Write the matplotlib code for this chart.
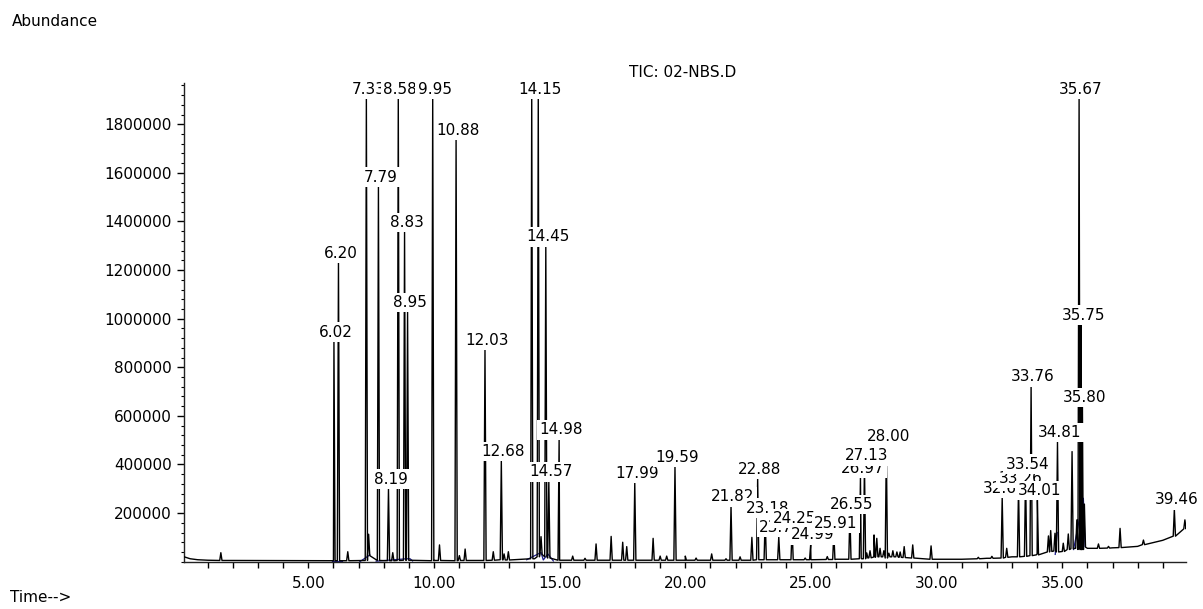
"""TIC chromatogram 02-NBS.D recreated with matplotlib."""

import numpy as np
import matplotlib
matplotlib.use("Agg")
import matplotlib.pyplot as plt
from matplotlib.ticker import MultipleLocator, FixedLocator, FuncFormatter

plt.rcParams["font.family"] = ["DejaVu Sans"]
FS = 11

# ── Data ──────────────────────────────────────────────────────────────────
# baseline of the trace (time in min, abundance)
base_t = [0.06, 0.3, 0.6, 1.0, 2.0, 5.0, 6.0, 10.0, 13.0, 14.0, 15.0, 20.0,
          22.0, 25.0, 26.0, 27.0, 27.5, 28.5, 29.0, 30.0, 31.0, 32.0, 33.0,
          34.0, 34.5, 35.0, 35.5, 36.0, 37.0, 38.0, 39.0, 39.5, 39.93]
base_a = [20000, 12000, 8000, 6000, 5000, 4000, 4000, 5000, 8000, 12000, 6000,
          6000, 6000, 8000, 10000, 14000, 20000, 20000, 15000, 10000, 10000,
          14000, 20000, 32000, 45000, 42000, 55000, 55000, 57000, 63000, 88000,
          108000, 140000]

# labelled peaks: retention time, apex abundance, local baseline, label
lab_rt = [6.02, 6.20, 7.31, 7.79, 8.19, 8.58, 8.83, 8.95, 9.95, 10.88, 12.03,
          12.68, 14.15, 14.45, 14.57, 14.98, 17.99, 19.59, 21.82, 22.88, 23.18,
          23.72, 24.25, 24.99, 25.91, 26.55, 26.97, 27.13, 28.00, 32.61, 33.26,
          33.54, 33.76, 34.01, 34.81, 35.67, 35.75, 35.80, 39.46]
lab_top = [906000, 1230000, 1905000, 1543000, 300000, 1905000, 1356000,
           1027000, 1905000, 1737000, 873000, 414000, 1905000, 1298000, 331000,
           503000, 325000, 390000, 228000, 341000, 181000, 102000, 139000,
           71000, 119000, 197000, 345000, 396000, 475000, 263000, 305000,
           362000, 722000, 253000, 492000, 1905000, 976000, 637000, 215000]
lab_base = [4000, 4000, 5000, 5000, 4000, 5000, 6000, 6000, 4000, 4000, 5000,
            8000, 20000, 20000, 15000, 6000, 6000, 6000, 6000, 8000, 8000,
            8000, 8000, 8000, 9000, 10000, 12000, 12000, 15000, 15000, 20000,
            22000, 25000, 28000, 40000, 50000, 50000, 50000, 105000]
lab_text = ["6.02", "6.20", "7.33", "7.79", "8.19", "8.58", "8.83", "8.95",
            "9.95", "10.88", "12.03", "12.68", "14.15", "14.45", "14.57",
            "14.98", "17.99", "19.59", "21.82", "22.88", "23.18", "23.72",
            "24.25", "24.99", "25.91", "26.55", "26.97", "27.13", "28.00",
            "32.61", "33.26", "33.54", "33.76", "34.01", "34.81", "35.67",
            "35.75", "35.80", "39.46"]

# smaller, unlabelled peaks
sm_rt = [1.52, 6.57, 7.40, 8.36, 10.22, 11.01, 11.24, 12.36, 12.79, 12.96,
         13.89, 14.26, 15.52, 16.01, 16.45, 17.05, 17.51, 17.67, 18.72, 19.00,
         19.26, 20.00, 20.43, 21.05, 21.62, 22.18, 22.65, 24.77, 25.65, 27.22,
         27.35, 27.51, 27.62, 27.75, 27.90, 28.10, 28.26, 28.42, 28.55, 28.71,
         29.05, 29.78, 31.66, 32.20, 32.79, 34.45, 34.54, 34.71, 35.04, 35.24,
         35.39, 35.58, 35.88, 36.44, 36.84, 37.30, 38.23, 39.88]
sm_top = [37000, 41000, 113000, 37000, 69000, 25000, 52000, 41000, 32000,
          41000, 1905000, 103000, 23000, 14000, 73000, 104000, 80000, 62000,
          96000, 23000, 23000, 23000, 15000, 32000, 12000, 20000, 100000,
          15000, 21000, 36000, 45000, 110000, 96000, 55000, 45000, 35000,
          45000, 40000, 40000, 62000, 69000, 65000, 18000, 22000, 55000,
          106000, 128000, 117000, 76000, 114000, 453000, 172000, 237000,
          73000, 63000, 137000, 89000, 172000]
sm_base = [5000, 4000, 25000, 4000, 5000, 5000, 5000, 6000, 7000, 7000,
           12000, 30000, 6000, 6000, 6000, 6000, 6000, 6000, 6000, 6000,
           6000, 6000, 6000, 6000, 6000, 6000, 6000, 8000, 9000, 15000,
           16000, 18000, 20000, 20000, 20000, 20000, 20000, 20000, 18000,
           17000, 15000, 10000, 12000, 14000, 18000, 40000, 42000, 44000,
           42000, 50000, 53000, 55000, 60000, 55000, 56000, 58000, 70000,
           135000]

# integration baselines (blue)
blue_t = [[5.95, 6.35], [7.05, 7.45], [7.70, 8.90, 9.05, 9.15],
          [13.69, 14.26, 14.35, 14.53, 14.75], [34.72, 34.80],
          [35.45, 35.84, 35.91]]
blue_a = [[3000, 3000], [0, 28000], [2000, 12000, 12000, 3000],
          [8000, 38000, 7000, 32000, 3000], [30000, 120000],
          [50000, 261000, 62000]]

# ── Build the trace ────────────────────────────────────────────────────────
HW = 0.045
pts = list(zip(base_t, base_a))
for rt, top, b in zip(lab_rt + sm_rt, lab_top + sm_top, lab_base + sm_base):
    pts += [(rt - HW, b), (rt, top), (rt + HW, b)]
pts.sort(key=lambda p: p[0])
trace_t = np.array([p[0] for p in pts])
trace_a = np.array([p[1] for p in pts])

# ── Figure ─────────────────────────────────────────────────────────────────
fig = plt.figure(figsize=(12.03, 6.09), dpi=100)
fig.patch.set_facecolor("white")
ax = fig.add_axes([0.153, 0.0777, 0.833, 0.7865])

for bt, ba in zip(blue_t, blue_a):
    ax.plot(bt, ba, color="#1c1c8a", linewidth=0.9, zorder=2)
ax.plot(trace_t, trace_a, color="black", linewidth=1.0, zorder=3)

# peak labels sit just above each apex; later labels cover earlier ones
for rt, top, txt in zip(lab_rt, lab_top, lab_text):
    ax.annotate(txt, (rt, top), xytext=(2, 9.5), textcoords="offset pixels",
                ha="center", va="center", fontsize=FS, zorder=5,
                annotation_clip=False,
                bbox=dict(boxstyle="square,pad=0.15", fc="white", ec="none"))

ax.set_xlim(0.056, 39.93)
ax.set_ylim(0, 1971000)

for side in ("top", "right"):
    ax.spines[side].set_visible(False)
for side in ("left", "bottom"):
    ax.spines[side].set_linewidth(1.0)
    ax.spines[side].set_color("#222222")

ax.xaxis.set_major_locator(FixedLocator([5, 10, 15, 20, 25, 30, 35]))
ax.xaxis.set_minor_locator(MultipleLocator(1))
ax.xaxis.set_major_formatter(FuncFormatter(lambda v, p: f"{v:.2f}"))
ax.yaxis.set_major_locator(FixedLocator(np.arange(200000, 1800001, 200000)))
ax.yaxis.set_minor_locator(MultipleLocator(40000))
ax.yaxis.set_major_formatter(FuncFormatter(lambda v, p: f"{int(v)}"))

ax.tick_params(axis="x", which="both", direction="out", length=4.5,
               width=1.0, labelsize=FS, pad=6)
ax.tick_params(axis="y", which="major", direction="out", length=5,
               width=1.0, labelsize=FS, pad=4)
ax.tick_params(axis="y", which="minor", direction="out", length=2.5,
               width=0.8)

fig.text(0.5673, 0.8813, "TIC: 02-NBS.D", ha="center", va="center",
         fontsize=FS)
fig.text(0.0097, 0.9639, "Abundance", ha="left", va="center", fontsize=FS)
fig.text(0.0083, 0.0197, "Time-->", ha="left", va="center", fontsize=FS)

fig.savefig("out.png", dpi=100, facecolor="white")
